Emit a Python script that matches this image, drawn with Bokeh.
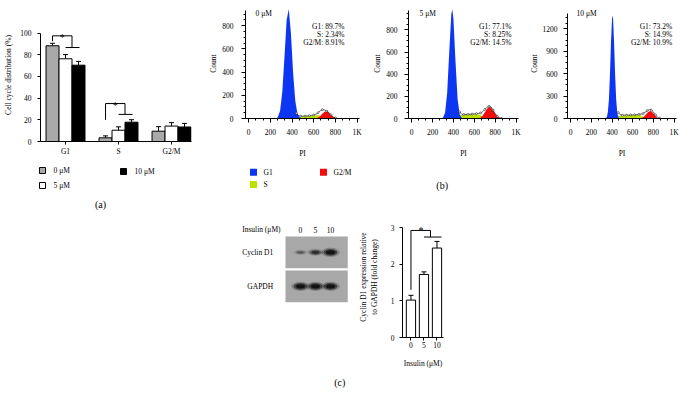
from bokeh.plotting import figure
from bokeh.models import (Range1d, FixedTicker, Label, Whisker, TeeHead,
                          ColumnDataSource, Spacer)
from bokeh.layouts import row, column
from bokeh.core.properties import value
from bokeh.embed import file_html
from bokeh.resources import INLINE

# ======================= DATA =======================
# (a) cell cycle distribution (%)
phases = ["G1", "S", "G2/M"]
dose_labels = ["0 μM", "5 μM", "10 μM"]
dist_0uM = [88.3, 3.4, 9.5]
dist_5uM = [76.3, 10.4, 14.2]
dist_10uM = [70.4, 17.8, 13.4]
err_0uM = [2.3, 1.8, 4.2]
err_5uM = [3.9, 3.1, 3.2]
err_10uM = [3.5, 2.3, 3.3]
# significance brackets in (a): phase, top level, left leg end, right level
sig_a_phase = [0, 1]
sig_a_top = [97.5, 35.0]
sig_a_left_end = [92.5, 20.0]
sig_a_right = [86.7, 25.0]

# (b) PI histograms (channel, count)
phase_names = ["G1", "S", "G2/M"]
pi_ticks = [0, 200, 400, 600, 800, 1000]
# 0 uM
g1_x_0 = [260, 270, 290, 310, 330, 350, 370, 390, 410, 430, 450, 470, 490]
g1_y_0 = [0, 15, 70, 230, 530, 850, 945, 730, 390, 150, 40, 8, 0]
s_x_0 = [450, 470, 490, 510, 530, 550, 570, 590, 610, 630, 650, 670, 690]
s_y_0 = [0, 12, 16, 18, 19, 20, 22, 24, 26, 28, 27, 18, 0]
g2_x_0 = [610, 620, 640, 660, 680, 700, 720, 740, 760, 780, 800, 820]
g2_y_0 = [0, 2, 8, 22, 42, 58, 62, 50, 30, 13, 4, 0]
tot_x_0 = [440, 460, 480, 500, 520, 540, 560, 580, 600, 620, 640, 660, 680, 700, 720, 740, 760, 780, 800, 820]
tot_y_0 = [45, 25, 20, 20, 21, 22, 24, 27, 30, 36, 50, 66, 76, 74, 64, 52, 32, 14, 5, 0]
stats_0 = ["G1: 89.7%", "S: 2.34%", "G2/M: 8.91%"]
# 5 uM
g1_x_5 = [290, 300, 320, 340, 360, 380, 390, 400, 420, 440, 460, 480, 490]
g1_y_5 = [0, 7, 52, 227, 597, 946, 985, 899, 515, 177, 36, 4, 0]
s_x_5 = [450, 465, 480, 500, 520, 540, 560, 580, 600, 620, 640, 660, 680, 700]
s_y_5 = [0, 28, 32, 33, 34, 35, 36, 37, 38, 38, 36, 30, 14, 0]
g2_x_5 = [650, 660, 680, 700, 720, 740, 760, 780, 800, 820, 840, 860]
g2_y_5 = [0, 10, 27, 54, 85, 104, 99, 73, 42, 19, 7, 0]
tot_x_5 = [460, 480, 500, 520, 540, 560, 580, 600, 620, 640, 660, 680, 700, 720, 740, 760, 780, 800, 820, 840, 860]
tot_y_5 = [60, 38, 36, 36, 37, 38, 40, 42, 44, 46, 50, 62, 82, 100, 110, 104, 76, 44, 20, 7, 0]
stats_5 = ["G1: 77.1%", "S: 8.25%", "G2/M: 14.5%"]
# 10 uM
g1_x_10 = [330, 340, 350, 360, 370, 380, 390, 400, 405, 410, 420, 430, 440, 450, 460, 470, 480]
g1_y_10 = [0, 5, 20, 85, 250, 580, 1010, 1330, 1380, 1340, 1020, 590, 260, 90, 25, 5, 0]
s_x_10 = [440, 455, 470, 490, 510, 530, 550, 570, 590, 610, 630, 650, 670, 690, 710, 730]
s_y_10 = [0, 30, 36, 38, 40, 41, 42, 43, 44, 45, 46, 46, 44, 35, 15, 0]
g2_x_10 = [680, 695, 710, 730, 750, 770, 790, 810, 830, 845]
g2_y_10 = [0, 12, 28, 58, 88, 100, 85, 50, 18, 0]
tot_x_10 = [460, 480, 500, 520, 540, 560, 580, 600, 620, 640, 660, 680, 700, 720, 740, 760, 780, 800, 820, 840, 860]
tot_y_10 = [80, 50, 44, 44, 45, 46, 47, 48, 50, 52, 55, 58, 66, 84, 105, 120, 112, 86, 48, 16, 2]
stats_10 = ["G1: 73.2%", "S: 14.9%", "G2/M: 10.9%"]

# (c) western blot and densitometry
insulin_doses = ["0", "5", "10"]
blot_proteins = ["GAPDH", "Cyclin D1"]
cyclin_band_intensity = [0.35, 0.65, 0.95]
gapdh_band_intensity = [0.95, 0.95, 0.95]
cyclin_fold = [1.02, 1.72, 2.44]
cyclin_err = [0.13, 0.07, 0.18]
sig_c_top = 2.92
sig_c_left_end = 1.3
sig_c_right = 2.74

# ======================= STYLE =======================
SERIF = "Liberation Serif"
FS = "7.5px"
G1_COLOR = "#0d36f2"
S_COLOR = "#bde000"
G2_COLOR = "#f20c0c"
PHASE_COLORS = [G1_COLOR, S_COLOR, G2_COLOR]
BAR_COLORS = ["#a9a9a9", "white", "black"]
COMMON = dict(output_backend="svg", toolbar_location=None, frame_align=False)


def style(p):
    p.xgrid.visible = False
    p.ygrid.visible = False
    p.outline_line_color = None
    p.background_fill_color = "white"
    p.border_fill_color = "white"
    for ax in p.axis:
        ax.major_label_text_font = SERIF
        ax.major_label_text_font_size = FS
        ax.major_label_text_color = "black"
        ax.axis_label_text_font = SERIF
        ax.axis_label_text_font_size = FS
        ax.axis_label_text_font_style = "normal"
        ax.axis_label_text_color = "black"
        ax.axis_line_color = "black"
        ax.major_tick_line_color = "black"
        ax.minor_tick_line_color = "black"
        ax.major_tick_in = 0
        ax.minor_tick_in = 0


def text(p, x, y, t, size=FS, align="left", baseline="middle", units="screen"):
    p.add_layout(Label(x=x, y=y, x_units=units, y_units=units, text=t,
                       text_font=SERIF, text_font_size=size, text_align=align,
                       text_baseline=baseline, text_color="black"))


def strip(x0, y0, w, h):
    """A blank canvas (page-pixel ranges) for legends and panel letters."""
    p = figure(width=w, height=h, x_range=Range1d(x0, x0 + w),
               y_range=Range1d(y0 + h, y0), x_axis_location=None,
               y_axis_location=None, min_border=0, **COMMON)
    style(p)
    return p


def swatches(p, xs, ys, colors, labels, size, gap, outline):
    p.rect(x=xs, y=ys, width=size, height=size, width_units="screen",
           height_units="screen", fill_color=colors,
           line_color="black" if outline else None, line_width=1)
    p.text(x=[x + size / 2 + gap for x in xs], y=ys, text=labels,
           text_font=value(SERIF), text_font_size=value(FS),
           text_align="left", text_baseline="middle", text_color="black")


# ======================= (a) =======================
offsets = [-0.245, 0.0, 0.245]
bar_w = 0.245
figA = figure(width=205, height=160, x_range=Range1d(-0.472, 2.377),
              y_range=Range1d(0, 122.7), min_border_left=40, min_border_right=14,
              min_border_top=8, min_border_bottom=19, **COMMON)
for i, (vals, errs) in enumerate(zip([dist_0uM, dist_5uM, dist_10uM],
                                     [err_0uM, err_5uM, err_10uM])):
    xs = [k + offsets[i] for k in range(len(phases))]
    src = ColumnDataSource(dict(x=xs, top=vals,
                                up=[v + e for v, e in zip(vals, errs)]))
    figA.vbar(x="x", top="top", bottom=0, width=bar_w, source=src,
              fill_color=BAR_COLORS[i], line_color="black", line_width=1)
    figA.add_layout(Whisker(source=src, base="x", lower="top", upper="up",
                            dimension="height", line_color="black", line_width=1,
                            upper_head=TeeHead(size=5, line_color="black", line_width=1),
                            lower_head=None))
for ph, top, lend, rlev in zip(sig_a_phase, sig_a_top, sig_a_left_end, sig_a_right):
    xl = ph + offsets[0]
    xm = ph + (offsets[1] + offsets[2]) / 2
    figA.line([xl, xl, xm, xm], [lend, top, top, rlev], line_color="black", line_width=1)
    figA.line([ph + offsets[1], ph + offsets[2] + 0.02], [rlev, rlev],
              line_color="black", line_width=1)
    text(figA, (xl + xm) / 2, top - 1.5, "*", size="10px", align="center",
         baseline="alphabetic", units="data")
figA.xaxis.ticker = FixedTicker(ticks=list(range(len(phases))))
figA.xaxis.major_label_overrides = {i: ph for i, ph in enumerate(phases)}
figA.yaxis.ticker = FixedTicker(ticks=[0, 20, 40, 60, 80, 100])
figA.yaxis.bounds = (0, 100)
figA.yaxis.axis_label = "Cell cycle distribution (%)"
style(figA)
for ax in figA.axis:
    ax.major_tick_out = 3
figA.yaxis.major_label_standoff = 6
figA.yaxis.axis_label_standoff = 4
figA.xaxis.major_label_standoff = 2

stripA = strip(0, 160, 205, 55)
swatches(stripA, [42, 42, 123], [170, 185, 171], BAR_COLORS, dose_labels, 6, 8, True)
stripA.text(x=[100], y=[204], text=["(a)"], text_font=value(SERIF),
            text_font_size=value("10px"), text_align="center", text_baseline="middle")


# ======================= (b) =======================
def hist_panel(width, left, right, ymax, ybound, yticks, ystep, g1x, g1y, sx, sy,
               g2x, g2y, tx, ty, dose, stats, dose_x, stats_x, lab_standoff):
    p = figure(width=width, height=160, x_range=Range1d(-30, 1023),
               y_range=Range1d(0, ymax), min_border_left=left,
               min_border_right=right, min_border_top=8, min_border_bottom=39,
               **COMMON)
    p.varea(x=sx, y1=0, y2=sy, fill_color=S_COLOR)
    p.varea(x=g1x, y1=0, y2=g1y, fill_color=G1_COLOR)
    p.varea(x=g2x, y1=0, y2=g2y, fill_color=G2_COLOR)
    p.line(tx, ty, line_color="black", line_width=0.6)
    p.scatter(tx[::2], ty[::2], size=2, fill_color="white", line_color="black",
              line_width=0.5)
    p.xaxis.ticker = FixedTicker(ticks=pi_ticks,
                                 minor_ticks=[k * 200 / 3 for k in range(16)])
    p.xaxis.major_label_overrides = {1000: "1K"}
    p.yaxis.ticker = FixedTicker(ticks=yticks,
                                 minor_ticks=[k * ystep for k in range(int(ybound / ystep) + 1)])
    p.yaxis.bounds = (0, ybound)
    p.xaxis.axis_label = "PI"
    p.yaxis.axis_label = "Count"
    style(p)
    for ax in p.axis:
        ax.major_tick_out = 4
        ax.minor_tick_out = 2
    p.yaxis.major_label_standoff = lab_standoff
    p.yaxis.axis_label_standoff = 1
    p.xaxis.major_label_standoff = 5
    p.xaxis.axis_label_standoff = 9
    text(p, dose_x, 105, dose)
    for k, s in enumerate(stats):
        text(p, stats_x, 91.7 - 7.7 * k, s, align="right")
    return p


figB1 = hist_panel(165, 40, 11, 949, 935, [0, 200, 400, 600, 800], 50,
                   g1_x_0, g1_y_0, s_x_0, s_y_0, g2_x_0, g2_y_0,
                   tot_x_0, tot_y_0, dose_labels[0], stats_0, 10, 99, 8)
figB2 = hist_panel(156, 34, 8, 993, 975, [0, 200, 400, 600, 800], 50,
                   g1_x_5, g1_y_5, s_x_5, s_y_5, g2_x_5, g2_y_5,
                   tot_x_5, tot_y_5, dose_labels[1], stats_5, 11, 103, 7)
figB3 = hist_panel(157, 36, 7, 1474, 1410, [0, 300, 600, 900, 1200], 75,
                   g1_x_10, g1_y_10, s_x_10, s_y_10, g2_x_10, g2_y_10,
                   tot_x_10, tot_y_10, dose_labels[2], stats_10, 9, 104.7, 6)

stripB1 = strip(205, 160, 165, 55)
swatches(stripB1, [253, 253, 323], [171.7, 184, 171.7], PHASE_COLORS,
         phase_names, 7, 6.5, False)
stripB2 = strip(370, 160, 156, 55)
stripB2.text(x=[441.7], y=[185], text=["(b)"], text_font=value(SERIF),
             text_font_size=value("10px"), text_align="center", text_baseline="middle")

# ======================= (c) blot =======================
lanes = list(range(len(insulin_doses)))
rows_y = list(range(len(blot_proteins)))
LANE_PX, ROW_PX = 15.0, 34.0
BLOT_L, BLOT_R = -1.0, 3.15
figBlot = figure(width=175, height=188, x_range=Range1d(-8, 3.667),
                 y_range=Range1d(-3.446, 2.084), x_axis_location=None,
                 y_axis_location=None, min_border=0, **COMMON)
style(figBlot)
figBlot.hbar(y=rows_y, left=BLOT_L, right=BLOT_R, height=0.932,
             fill_color="#a8a8a8", line_color=None)
for ry, inten in zip(rows_y, [gapdh_band_intensity, cyclin_band_intensity]):
    w = [(8 + 6 * v) / LANE_PX for v in inten]
    h = [(2 + 5 * v) / ROW_PX for v in inten]
    for sc, al in [(1.35, 0.25), (1.0, 0.6), (0.65, 1.0)]:
        figBlot.ellipse(x=lanes, y=[ry] * len(lanes), width=[a * sc for a in w],
                        height=[b * sc for b in h], fill_color="#111111",
                        fill_alpha=[al * v for v in inten], line_color=None)
label_row = rows_y[-1] + 0.66
figBlot.text(x=lanes, y=[label_row] * len(lanes), text=insulin_doses,
             text_font=value(SERIF), text_font_size=value(FS),
             text_align="center", text_baseline="middle", text_color="black")
figBlot.text(x=[-1.82] * len(rows_y), y=rows_y, text=blot_proteins,
             text_font=value(SERIF), text_font_size=value(FS),
             text_align="right", text_baseline="middle", text_color="black")
figBlot.text(x=[-1.33], y=[label_row], text=["Insulin (μM)"],
             text_font=value(SERIF), text_font_size=value(FS),
             text_align="right", text_baseline="middle", text_color="black")
figBlot.text(x=[2.62], y=[-2.82], text=["(c)"], text_font=value(SERIF),
             text_font_size=value("10px"), text_align="center", text_baseline="middle")

# ======================= (c) bars =======================
figC = figure(width=95, height=188, x_range=Range1d(-0.65, 2.5),
              y_range=Range1d(0, 3.3), min_border_left=46, min_border_right=7,
              min_border_top=1, min_border_bottom=66, **COMMON)
srcC = ColumnDataSource(dict(x=lanes, top=cyclin_fold,
                             up=[v + e for v, e in zip(cyclin_fold, cyclin_err)]))
figC.vbar(x="x", top="top", bottom=0, width=0.71, source=srcC,
          fill_color="white", line_color="black", line_width=1)
figC.add_layout(Whisker(source=srcC, base="x", lower="top", upper="up",
                        dimension="height", line_color="black", line_width=1,
                        upper_head=TeeHead(size=5, line_color="black", line_width=1),
                        lower_head=None))
figC.line([lanes[0], lanes[0], 1.5, 1.5], [sig_c_left_end, sig_c_top, sig_c_top, sig_c_right],
          line_color="black", line_width=1)
figC.line([lanes[1], lanes[2] + 0.35], [sig_c_right, sig_c_right],
          line_color="black", line_width=1)
text(figC, 0.77, sig_c_top + 0.01, "*", size="10px", align="center",
     baseline="alphabetic", units="data")
figC.xaxis.ticker = FixedTicker(ticks=lanes)
figC.xaxis.major_label_overrides = {i: d for i, d in enumerate(insulin_doses)}
figC.yaxis.ticker = FixedTicker(ticks=[0, 1, 2, 3])
figC.yaxis.bounds = (0, 3)
figC.xaxis.axis_label = "Insulin (μM)"
figC.yaxis.axis_label = "Cyclin D1 expression relative\nto GAPDH (fold change)"
style(figC)
for ax in figC.axis:
    ax.major_tick_out = 3
figC.yaxis.major_label_standoff = 5
figC.yaxis.axis_label_standoff = 9
figC.xaxis.major_label_standoff = 1
figC.xaxis.axis_label_standoff = 8

top_row = row(column(figA, stripA), column(figB1, stripB1),
              column(figB2, stripB2), column(figB3, Spacer(width=157, height=55)))
bottom_row = row(Spacer(width=180, height=188), figBlot, figC)
layout = column(top_row, bottom_row)

open("out.html", "w").write(file_html(layout, INLINE))
